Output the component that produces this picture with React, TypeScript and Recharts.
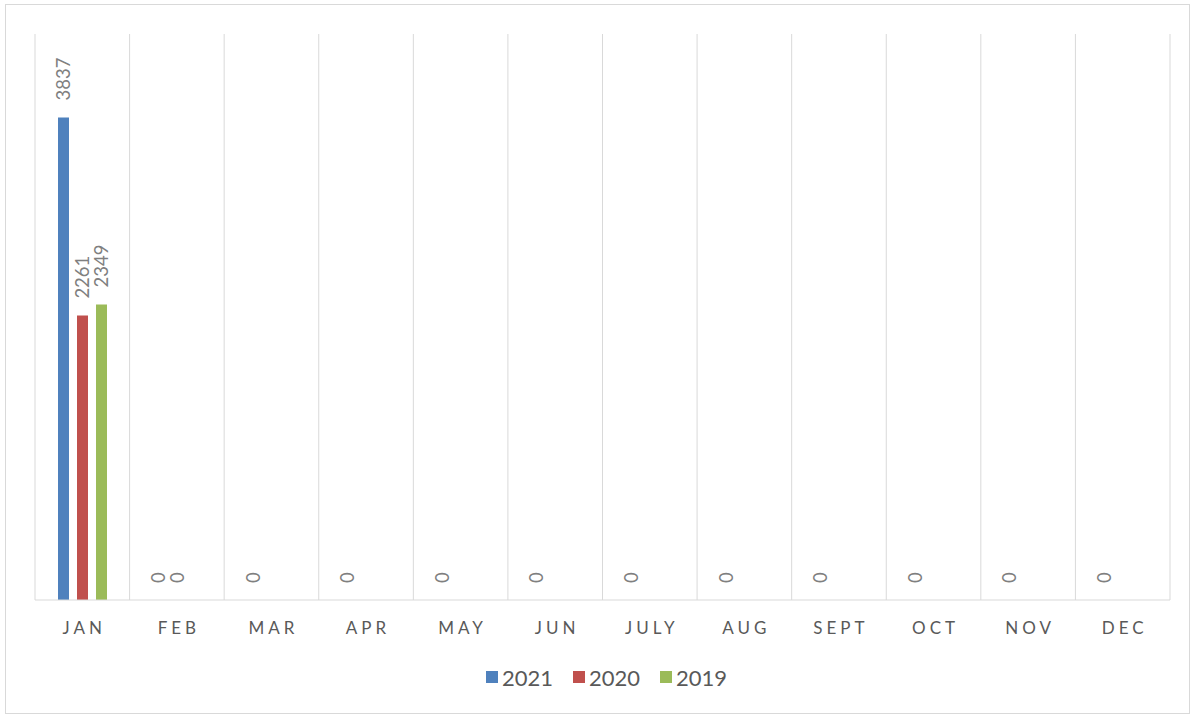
import { BarChart, Bar, XAxis, YAxis, CartesianGrid, Legend, LabelList } from "recharts";

const MONTHS = ["JAN", "FEB", "MAR", "APR", "MAY", "JUN", "JULY", "AUG", "SEPT", "OCT", "NOV", "DEC"];
const Y2021 = [3837, 0, 0, 0, 0, 0, 0, 0, 0, 0, 0, 0];
const Y2020 = [2261, 0, null, null, null, null, null, null, null, null, null, null];
const Y2019 = [2349, null, null, null, null, null, null, null, null, null, null, null];

const SERIES = [
  { key: "y2021", name: "2021", color: "#4f81bd" },
  { key: "y2020", name: "2020", color: "#c0504d" },
  { key: "y2019", name: "2019", color: "#9bbb59" },
];

const data = MONTHS.map((m, i) => ({ month: m, y2021: Y2021[i], y2020: Y2020[i], y2019: Y2019[i] }));

const FONT = "Lato, 'Open Sans', sans-serif";

function ValueLabel({ x, y, width, height, value }: any) {
  if (value == null) return null;
  const cx = x + width / 2;
  // zero bars get a tiny min height, so measure from the bar's base
  const top = value === 0 ? y + height : y;
  const cy = top - 17;
  return (
    <text
      x={cx} y={cy} transform={`rotate(-90, ${cx}, ${cy})`}
      textAnchor="start" dominantBaseline="central"
      fill="#7f7f7f" fontSize={18.5} fontFamily={FONT}
    >
      {value}
    </text>
  );
}

function MonthTick({ x, y, payload }: any) {
  return (
    <text x={x + 2} y={y} dy="0.71em" textAnchor="middle" fill="#595959"
      fontSize={17} fontFamily={FONT} letterSpacing={4}>
      {payload.value}
    </text>
  );
}

function LegendBox() {
  return (
    <div style={{ display: "flex", justifyContent: "center", height: 26, alignItems: "center", fontFamily: FONT, paddingLeft: 28 }}>
      {SERIES.map((s) => (
        <div key={s.key} style={{ display: "flex", alignItems: "center", marginRight: 20 }}>
          <span style={{ width: 12, height: 12, background: s.color, marginRight: 4, display: "inline-block" }} />
          <span style={{ fontSize: 22, color: "#595959" }}>{s.name}</span>
        </div>
      ))}
    </div>
  );
}

export default function App() {
  return (
    <div style={{ position: "absolute", left: 0, top: 0, width: 1191, height: 715, background: "#fff" }}>
      <div style={{ position: "absolute", left: 5, top: 4, width: 1183, height: 708, border: "1px solid #d9d9d9" }} />
      <div style={{ position: "absolute", left: 0, top: 0 }}>
        <BarChart
          width={1191} height={715} data={data}
          margin={{ top: 34, right: 21, left: 35, bottom: 25 }}
          barSize={11} barGap={8}
        >
          <CartesianGrid
            horizontal={false} stroke="#d9d9d9"
            verticalCoordinatesGenerator={({ offset }: any) =>
              Array.from({ length: MONTHS.length + 1 }, (_, i) => offset.left + (i * offset.width) / MONTHS.length)
            }
          />
          <XAxis
            dataKey="month" height={64} tickLine={false} tickMargin={16}
            axisLine={{ stroke: "#d9d9d9" }} tick={<MonthTick />} interval={0}
          />
          <YAxis hide domain={[0, 4500]} />
          <Legend verticalAlign="bottom" content={<LegendBox />} />
          {SERIES.map((s) => (
            <Bar key={s.key} dataKey={s.key} name={s.name} fill={s.color} minPointSize={0.01} isAnimationActive={false}>
              <LabelList dataKey={s.key} content={<ValueLabel />} />
            </Bar>
          ))}
        </BarChart>
      </div>
    </div>
  );
}
